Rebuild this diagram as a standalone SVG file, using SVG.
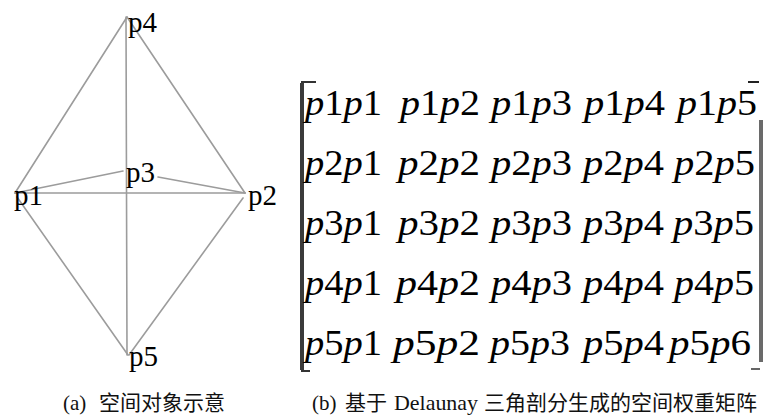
<svg xmlns="http://www.w3.org/2000/svg" width="763" height="417" viewBox="0 0 763 417">
<style>
.edge{stroke:#9c9c9c;stroke-width:1.6;fill:none;stroke-linecap:round}
.lbl{font-family:"Liberation Serif","Times New Roman",serif;font-size:29px;fill:#000}
.cell{font-family:"Liberation Serif","Times New Roman",serif;font-size:35px;fill:#000}
.it{font-style:italic}
.cap{font-family:"Liberation Serif","Noto Sans CJK SC",serif;font-size:21px;fill:#111}
</style>
<rect width="763" height="417" fill="#fff"/>
<g id="connectors">
<line class="edge" x1="127" y1="17" x2="15" y2="193"/>
<line class="edge" x1="127" y1="17" x2="245" y2="193"/>
<line class="edge" x1="126" y1="17" x2="127" y2="355"/>
<line class="edge" x1="15" y1="193" x2="245" y2="193"/>
<line class="edge" x1="15" y1="193" x2="123" y2="171"/>
<line class="edge" x1="158" y1="177" x2="245" y2="193"/>
<line class="edge" x1="17" y1="197" x2="128" y2="355"/>
<line class="edge" x1="243" y1="198" x2="129" y2="355"/>
</g>
<g id="p1"><text class="lbl" x="14" y="205">p1</text></g>
<g id="p2"><text class="lbl" x="248" y="205">p2</text></g>
<g id="p3"><text class="lbl" x="126" y="182">p3</text></g>
<g id="p4"><text class="lbl" x="128" y="32">p4</text></g>
<g id="p5"><text class="lbl" x="129" y="366">p5</text></g>
<text class="cap" x="63" y="410">(a)</text>
<text class="cap" x="99" y="410">空间对象示意</text>
<g id="matrix">
<path d="M316,82 H302 V371 H310" stroke="#333" stroke-width="2" fill="none"/>
<line x1="302" y1="83" x2="302" y2="370" stroke="#3a3a3a" stroke-width="4"/>
<line x1="748" y1="82" x2="759" y2="82" stroke="#222" stroke-width="2"/>
<line x1="761" y1="120" x2="761" y2="362" stroke="#6a6a6a" stroke-width="4"/>
<line x1="751" y1="369" x2="760" y2="369" stroke="#333" stroke-width="1.5"/>
<g id="row1">
<text class="cell" x="305" y="115" textLength="77" lengthAdjust="spacingAndGlyphs"><tspan class="it">p</tspan>1<tspan class="it">p</tspan>1</text>
<text class="cell" x="400" y="115" textLength="80" lengthAdjust="spacingAndGlyphs"><tspan class="it">p</tspan>1<tspan class="it">p</tspan>2</text>
<text class="cell" x="491" y="115" textLength="81" lengthAdjust="spacingAndGlyphs"><tspan class="it">p</tspan>1<tspan class="it">p</tspan>3</text>
<text class="cell" x="584" y="115" textLength="81" lengthAdjust="spacingAndGlyphs"><tspan class="it">p</tspan>1<tspan class="it">p</tspan>4</text>
<text class="cell" x="677" y="115" textLength="80" lengthAdjust="spacingAndGlyphs"><tspan class="it">p</tspan>1<tspan class="it">p</tspan>5</text>
</g>
<g id="row2">
<text class="cell" x="305" y="175" textLength="77" lengthAdjust="spacingAndGlyphs"><tspan class="it">p</tspan>2<tspan class="it">p</tspan>1</text>
<text class="cell" x="398" y="175" textLength="82" lengthAdjust="spacingAndGlyphs"><tspan class="it">p</tspan>2<tspan class="it">p</tspan>2</text>
<text class="cell" x="491" y="175" textLength="81" lengthAdjust="spacingAndGlyphs"><tspan class="it">p</tspan>2<tspan class="it">p</tspan>3</text>
<text class="cell" x="583" y="175" textLength="81" lengthAdjust="spacingAndGlyphs"><tspan class="it">p</tspan>2<tspan class="it">p</tspan>4</text>
<text class="cell" x="674" y="175" textLength="81" lengthAdjust="spacingAndGlyphs"><tspan class="it">p</tspan>2<tspan class="it">p</tspan>5</text>
</g>
<g id="row3">
<text class="cell" x="305" y="235" textLength="77" lengthAdjust="spacingAndGlyphs"><tspan class="it">p</tspan>3<tspan class="it">p</tspan>1</text>
<text class="cell" x="398" y="235" textLength="82" lengthAdjust="spacingAndGlyphs"><tspan class="it">p</tspan>3<tspan class="it">p</tspan>2</text>
<text class="cell" x="491" y="235" textLength="81" lengthAdjust="spacingAndGlyphs"><tspan class="it">p</tspan>3<tspan class="it">p</tspan>3</text>
<text class="cell" x="583" y="235" textLength="81" lengthAdjust="spacingAndGlyphs"><tspan class="it">p</tspan>3<tspan class="it">p</tspan>4</text>
<text class="cell" x="673" y="235" textLength="81" lengthAdjust="spacingAndGlyphs"><tspan class="it">p</tspan>3<tspan class="it">p</tspan>5</text>
</g>
<g id="row4">
<text class="cell" x="305" y="295" textLength="77" lengthAdjust="spacingAndGlyphs"><tspan class="it">p</tspan>4<tspan class="it">p</tspan>1</text>
<text class="cell" x="396" y="295" textLength="84" lengthAdjust="spacingAndGlyphs"><tspan class="it">p</tspan>4<tspan class="it">p</tspan>2</text>
<text class="cell" x="491" y="295" textLength="81" lengthAdjust="spacingAndGlyphs"><tspan class="it">p</tspan>4<tspan class="it">p</tspan>3</text>
<text class="cell" x="583" y="295" textLength="81" lengthAdjust="spacingAndGlyphs"><tspan class="it">p</tspan>4<tspan class="it">p</tspan>4</text>
<text class="cell" x="674" y="295" textLength="80" lengthAdjust="spacingAndGlyphs"><tspan class="it">p</tspan>4<tspan class="it">p</tspan>5</text>
</g>
<g id="row5">
<text class="cell" x="305" y="355" textLength="77" lengthAdjust="spacingAndGlyphs"><tspan class="it">p</tspan>5<tspan class="it">p</tspan>1</text>
<text class="cell" x="393" y="355" textLength="87" lengthAdjust="spacingAndGlyphs"><tspan class="it">p</tspan>5<tspan class="it">p</tspan>2</text>
<text class="cell" x="490" y="355" textLength="80" lengthAdjust="spacingAndGlyphs"><tspan class="it">p</tspan>5<tspan class="it">p</tspan>3</text>
<text class="cell" x="583" y="355" textLength="81" lengthAdjust="spacingAndGlyphs"><tspan class="it">p</tspan>5<tspan class="it">p</tspan>4</text>
<text class="cell" x="669" y="355" textLength="82" lengthAdjust="spacingAndGlyphs"><tspan class="it">p</tspan>5<tspan class="it">p</tspan>6</text>
</g>
</g>
<text class="cap" x="312" y="410">(b)</text>
<text class="cap" x="345" y="410">基于</text>
<text class="cap" x="394" y="410" textLength="84" lengthAdjust="spacingAndGlyphs">Delaunay</text>
<text class="cap" x="484" y="410">三角剖分生成的空间权重矩阵</text>
</svg>
